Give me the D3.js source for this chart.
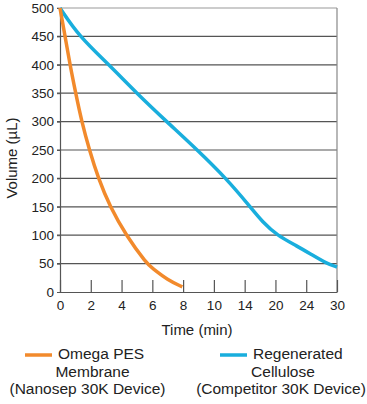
<!DOCTYPE html>
<html lang="en">
  <head>
    <meta charset="utf-8" />
    <style type="text/css">
      body { margin: 0; background: #fff; }
      svg { display: block; font-family: "Liberation Sans", Arial, sans-serif; }
    </style>
  </head>
  <body>
    <svg width="367" height="404"></svg>

    <script src="https://d3js.org/d3.v7.min.js"></script>
    <script type="text/javascript">
      // tick labels on the time axis (equally spaced on the page)
      var timeTicks = [0, 2, 4, 6, 8, 10, 14, 20, 24, 30];
      var volumeTicks = [0, 50, 100, 150, 200, 250, 300, 350, 400, 450, 500];

      // Omega PES membrane (Nanosep 30K)
      var pesTime = [0, 0.33, 0.65, 1.02, 1.41, 1.91, 2.49, 3.25, 4.29, 5.63, 6, 7, 7.95];
      var pesVolume = [500, 450, 400, 350, 300, 250, 200, 150, 100, 50, 42, 21, 9];

      // regenerated cellulose (competitor 30K)
      var rcTime = [0, 1.24, 3.19, 4.98, 6.93, 8.93, 11.6, 15.07, 17.5, 20.2, 22.8, 25, 28, 30];
      var rcVolume = [500, 450, 400, 350, 300, 250, 200, 150, 123, 100, 81, 66, 50, 44];

      var svg = d3.select("svg");
      var plotL = 60, plotT = 8, plotR = 337, plotB = 292;

      var x = d3
        .scaleLinear()
        .domain(timeTicks)
        .range(timeTicks.map(function (d, i) {
          return plotL + (i * (plotR - plotL)) / (timeTicks.length - 1);
        }));
      var y = d3.scaleLinear().domain([0, 500]).range([plotB, plotT]);

      // horizontal grid
      svg
        .append("g")
        .selectAll("line")
        .data(volumeTicks.slice(1))
        .enter()
        .append("line")
        .attr("x1", plotL - 3)
        .attr("x2", plotR)
        .attr("y1", function (d) { return y(d); })
        .attr("y2", function (d) { return y(d); })
        .attr("stroke", function (d) { return d == 500 ? "#999" : "#555"; })
        .attr("stroke-width", 1.2);

      // right border
      svg
        .append("line")
        .attr("x1", plotR).attr("x2", plotR)
        .attr("y1", plotT).attr("y2", plotB)
        .attr("stroke", "#888").attr("stroke-width", 1.2);

      // y axis
      var yAxis = svg
        .append("g")
        .attr("transform", "translate(" + plotL + ",0)")
        .call(d3.axisLeft(y).tickValues(volumeTicks).tickSize(3).tickPadding(3));
      yAxis.select(".domain").attr("stroke", "#555").attr("stroke-width", 1.2);
      yAxis.selectAll(".tick line").attr("stroke", "#555");
      yAxis.selectAll("text").attr("font-size", 13.5).attr("fill", "#222")
        .attr("font-family", "Liberation Sans, Arial, sans-serif");

      // x axis, ticks pointing up into the plot
      var xAxis = svg
        .append("g")
        .attr("transform", "translate(0," + plotB + ")")
        .call(d3.axisBottom(x).tickValues(timeTicks).tickSize(0).tickPadding(8));
      xAxis.select(".domain").attr("stroke", "#555").attr("stroke-width", 1.2);
      xAxis.selectAll(".tick line").attr("y2", -12).attr("stroke", "#555").attr("stroke-width", 1.2);
      xAxis.selectAll("text").attr("font-size", 13.5).attr("fill", "#222")
        .attr("font-family", "Liberation Sans, Arial, sans-serif");

      var line = d3
        .line()
        .x(function (d) { return x(d[0]); })
        .y(function (d) { return y(d[1]); })
        .curve(d3.curveBasis);

      svg
        .append("path")
        .attr("d", line(d3.zip(rcTime, rcVolume)))
        .attr("fill", "none")
        .attr("stroke", "#19aedd")
        .attr("stroke-width", 3.5);

      svg
        .append("path")
        .attr("d", line(d3.zip(pesTime, pesVolume)))
        .attr("fill", "none")
        .attr("stroke", "#f28a2c")
        .attr("stroke-width", 3.5);

      // axis titles
      svg
        .append("text")
        .attr("transform", "translate(17,158) rotate(-90)")
        .attr("text-anchor", "middle")
        .attr("font-size", 15)
        .attr("fill", "#222")
        .text("Volume (\u00b5L)");

      svg
        .append("text")
        .attr("x", 197)
        .attr("y", 335)
        .attr("text-anchor", "middle")
        .attr("font-size", 15)
        .attr("fill", "#222")
        .text("Time (min)");

      // legend
      var legend = [
        { color: "#f28a2c", x0: 25, c2: 92.5, c3: 87.5, lines: ["Omega PES", "Membrane", "(Nanosep 30K Device)"] },
        { color: "#19aedd", x0: 220, c2: 283, c3: 281, lines: ["Regenerated", "Cellulose", "(Competitor 30K Device)"] }
      ];
      var lg = svg.selectAll(".legend").data(legend).enter().append("g").attr("class", "legend");
      lg.append("line")
        .attr("x1", function (d) { return d.x0; })
        .attr("x2", function (d) { return d.x0 + 27; })
        .attr("y1", 355).attr("y2", 355)
        .attr("stroke", function (d) { return d.color; })
        .attr("stroke-width", 3.5);
      lg.append("text")
        .attr("x", function (d) { return d.x0 + 33; })
        .attr("y", 359)
        .attr("font-size", 15.5).attr("fill", "#222")
        .text(function (d) { return d.lines[0]; });
      lg.append("text")
        .attr("x", function (d) { return d.c2; })
        .attr("y", 377)
        .attr("text-anchor", "middle")
        .attr("font-size", 15.5).attr("fill", "#222")
        .text(function (d) { return d.lines[1]; });
      lg.append("text")
        .attr("x", function (d) { return d.c3; })
        .attr("y", 394)
        .attr("text-anchor", "middle")
        .attr("font-size", 15.5).attr("fill", "#222")
        .text(function (d) { return d.lines[2]; });
    </script>
  </body>
</html>
